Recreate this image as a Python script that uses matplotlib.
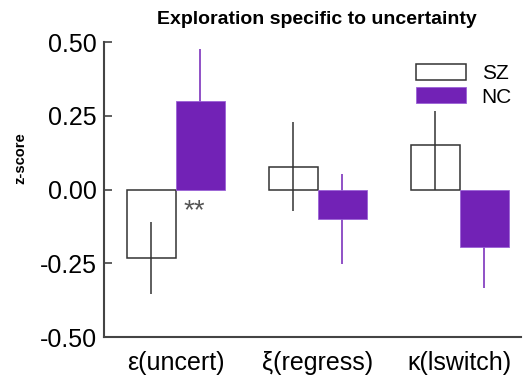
import matplotlib
matplotlib.use("Agg")
import matplotlib.pyplot as plt
from matplotlib.patches import Patch
import numpy as np

# Parameter estimates (z-scored) per group
params = ["\u03b5(uncert)", "\u03be(regress)", "\u03ba(lswitch)"]
sz_mean = [-0.233, 0.078, 0.151]
sz_err_lo = [0.122, 0.150, 0.151]
sz_err_hi = [0.122, 0.152, 0.116]
nc_mean = [0.300, -0.100, -0.193]
nc_err = [0.178, 0.152, 0.140]
yticks = [-0.50, -0.25, 0.00, 0.25, 0.50]
ytick_labels = ["-0.50", "-0.25", "0.00", "0.25", "0.50"]

purple = "#7222B6"
dark = "#333333"

plt.rcParams["font.family"] = ["Liberation Sans", "DejaVu Sans"]

fig = plt.figure(figsize=(5.24, 3.83), dpi=100)
ax = fig.add_axes([0.1985, 0.1193, 0.7955, 0.771])

x = np.arange(len(params))
w = 0.345

ax.bar(x - w / 2, sz_mean, width=w, facecolor="white", edgecolor=dark,
       linewidth=1.1, zorder=2)
ax.errorbar(x - w / 2, sz_mean, yerr=[sz_err_lo, sz_err_hi], fmt="none",
            ecolor=dark, elinewidth=1.1, capsize=0, zorder=3)
ax.bar(x + w / 2, nc_mean, width=w, facecolor=purple, edgecolor="#9b62d6",
       linewidth=0.6, zorder=2)
ax.errorbar(x + w / 2, nc_mean, yerr=nc_err, fmt="none",
            ecolor=purple, elinewidth=1.1, capsize=0, zorder=1)

ax.text(0.13, -0.030, "**", ha="center", va="top", fontsize=20,
        color="#555555")

ax.set_xlim(-0.505, 2.43)
ax.set_ylim(-0.5, 0.5)
ax.set_yticks(yticks)
ax.set_yticklabels(ytick_labels, fontsize=18)
ax.set_xticks(x)
ax.set_xticklabels(params, fontsize=18)

for s in ("top", "right"):
    ax.spines[s].set_visible(False)
for s in ("left", "bottom"):
    ax.spines[s].set_color("#444444")
    ax.spines[s].set_linewidth(1.5)

ax.tick_params(axis="y", direction="in", length=6, width=1.2,
               color="#444444", pad=5)
ax.tick_params(axis="x", length=0, pad=10)

ax.set_ylabel("z-score", fontsize=10.5, fontweight="bold")
ax.yaxis.set_label_coords(-0.185, 0.607)

fig.text(317 / 524, 1 - 19 / 383, "Exploration specific to uncertainty",
         ha="center", va="center", fontsize=14, fontweight="bold")

handles = [Patch(facecolor="white", edgecolor=dark, linewidth=1.1),
           Patch(facecolor=purple, edgecolor="#9b62d6", linewidth=0.6)]
ax.legend(handles, ["SZ", "NC"], loc="upper left", frameon=False,
          bbox_to_anchor=(416 / 524, 1 - 64 / 383),
          bbox_transform=fig.transFigure, fontsize=15, borderpad=0,
          borderaxespad=0, handlelength=2.4, handleheight=0.8,
          handletextpad=0.75, labelspacing=0.2)

fig.savefig("out.png", dpi=100)
